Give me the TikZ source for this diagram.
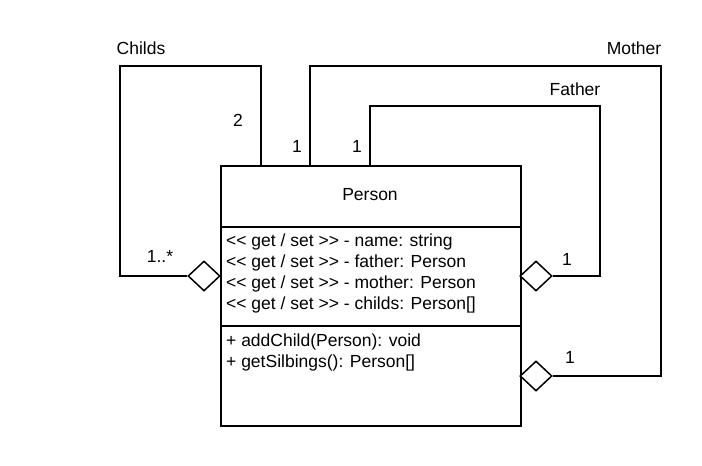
\documentclass[tikz,border=0pt]{standalone}
\usepackage{fontspec}
\setmainfont{Liberation Sans}
\usetikzlibrary{shapes.geometric}
\newcommand\lguil{<\kern0pt<}
\newcommand\rguil{>\kern0pt>}
\tikzset{
  box/.style={draw, line width=1.5pt, minimum width=300pt, anchor=north west, inner sep=0pt},
  member/.style={anchor=base west, inner sep=0pt},
  agg/.style={draw, diamond, line width=1.5pt, fill=white, minimum width=32pt, minimum height=30pt, inner sep=0pt},
  assoc/.style={line width=1.5pt},
  lbl/.style={inner sep=0pt}
}
\begin{document}
\begin{tikzpicture}[x=1pt, y=-1pt, font=\fontsize{17.5}{21}\selectfont]
\useasboundingbox (0,0) rectangle (702,466);
\node[box, minimum height=61pt](head) at (220,165){};
\node[box, minimum height=99pt](attr) at (220,226){};
\node[box, minimum height=100pt](meth) at (220,325){};
\node[lbl] (name) at (370,195) {Person};

\node[member](a1) at (226,246) {\lguil{} get / set \rguil{} - name: string};
\node[member](a2) at (226,267) {\lguil{} get / set \rguil{} - father: Person};
\node[member](a3) at (226,288) {\lguil{} get / set \rguil{} - mother: Person};
\node[member](a4) at (226,309) {\lguil{} get / set \rguil{} - childs: Person[]};
\node[member](m1) at (226,346) {+ addChild(Person): void};
\node[member](m2) at (226,367) {+ getSilbings(): Person[]};

\node[agg](cd) at (204,276){};
\node[agg](fd) at (536,276){};
\node[agg](md) at (536,376){};

\draw[assoc] ([xshift=41pt]head.north west) |- (120,66) |- (cd.west);
\draw[assoc] ([xshift=90pt]head.north west) |- (661,66) |- (md.east);
\draw[assoc] ([xshift=150pt]head.north west) |- (600,106) |- (fd.east);

\node[lbl] at (141,48) {Childs};
\node[lbl] at (634,48) {Mother};
\node[lbl] at (575,89) {Father};
\node[lbl] at (238,120) {2};
\node[lbl] at (297,146) {1};
\node[lbl] at (357,146) {1};
\node[lbl] at (160,256) {1..*};
\node[lbl] at (567,259) {1};
\node[lbl] at (570,357) {1};
\end{tikzpicture}
\end{document}
